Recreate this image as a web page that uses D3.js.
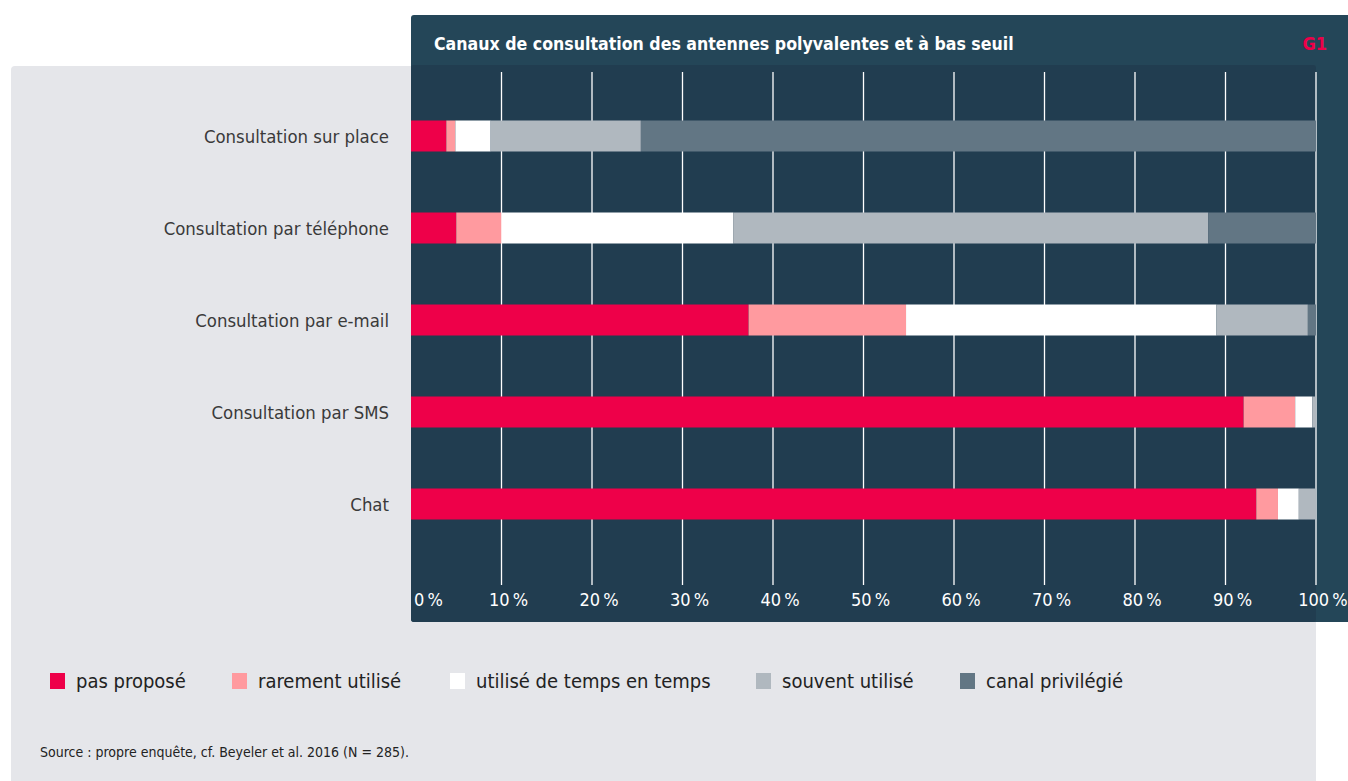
<!DOCTYPE html>
<html>
<head>
<meta charset="utf-8">
<script src="https://cdn.jsdelivr.net/npm/d3@7"></script>
<style>
  body { margin: 0; background: #fff; }
  svg { display: block; }
  .cond { font-family: 'Liberation Sans Narrow', 'DejaVu Sans Condensed', sans-serif; }
</style>
</head>
<body>
<div id="chart"></div>
<script>
// data
const categories = ['Consultation sur place', 'Consultation par téléphone', 'Consultation par e-mail', 'Consultation par SMS', 'Chat'];
const seriesNames = ['pas proposé', 'rarement utilisé', 'utilisé de temps en temps', 'souvent utilisé', 'canal privilégié'];
const pasPropose = [3.9, 5.0, 37.3, 92.0, 93.4];
const rarement = [1.0, 5.0, 17.4, 5.7, 2.4];
const tempsEnTemps = [3.9, 25.6, 34.3, 1.9, 2.3];
const souvent = [16.6, 52.5, 10.1, 0.4, 1.9];
const privilegie = [74.6, 11.9, 0.9, 0.0, 0.0];
const tickValues = [0, 10, 20, 30, 40, 50, 60, 70, 80, 90, 100];
const seriesColors = ['#ee0049', '#ff9a9f', '#ffffff', '#b0b8bf', '#627684'];

const W = 1348, H = 781;
const svg = d3.select('#chart').append('svg').attr('width', W).attr('height', H);

// light panel
svg.append('rect').attr('x', 11).attr('y', 66).attr('width', 1305).attr('height', 730)
  .attr('rx', 4).attr('fill', '#e5e6ea');

// dark panel with title band
svg.append('rect').attr('x', 411).attr('y', 15).attr('width', 950).attr('height', 607)
  .attr('rx', 3).attr('fill', '#244658');
svg.append('rect').attr('x', 411).attr('y', 65).attr('width', 905).attr('height', 557)
  .attr('rx', 3).attr('fill', '#213d50');

svg.append('text').attr('class', 'cond')
  .attr('x', 434).attr('y', 50)
  .style('font-size', '17.6px').style('font-weight', 'bold').attr('fill', '#fff')
  .text('Canaux de consultation des antennes polyvalentes et à bas seuil');
svg.append('text').attr('class', 'cond')
  .attr('x', 1327).attr('y', 50).attr('text-anchor', 'end')
  .style('font-size', '18px').style('font-weight', 'bold').attr('fill', '#ee0049')
  .text('G1');

// scales
const x = d3.scaleLinear().domain([0, 100]).range([411, 1316]);
const y = d3.scalePoint().domain(categories).range([136, 504]);
const barH = 31;

// gridlines
svg.append('g').selectAll('line').data(tickValues.slice(1)).enter().append('line')
  .attr('x1', d => x(d)).attr('x2', d => x(d))
  .attr('y1', 72).attr('y2', 585)
  .attr('stroke', '#fff').attr('stroke-width', 1.3);

// stacked bars
const rows = categories.map((c, i) => ({
  cat: c,
  s0: pasPropose[i], s1: rarement[i], s2: tempsEnTemps[i], s3: souvent[i], s4: privilegie[i]
}));
const keys = ['s0', 's1', 's2', 's3', 's4'];
const stacked = d3.stack().keys(keys)(rows);

svg.append('g').selectAll('g').data(stacked).enter().append('g')
  .attr('fill', (d, i) => seriesColors[i])
  .selectAll('rect').data(d => d).enter().append('rect')
  .attr('x', d => x(d[0]))
  .attr('width', d => Math.max(0, x(d[1]) - x(d[0])))
  .attr('y', d => y(d.data.cat) - barH / 2)
  .attr('height', barH);

// category labels
svg.append('g').selectAll('text').data(categories).enter().append('text')
  .attr('class', 'cond')
  .attr('x', 389).attr('y', d => y(d) + 7)
  .attr('text-anchor', 'end')
  .style('font-size', '18.4px').attr('fill', '#3a3a3a')
  .text(d => d);

// tick labels
svg.append('g').selectAll('text').data(tickValues).enter().append('text')
  .attr('class', 'cond')
  .attr('x', d => d === 0 ? x(d) + 3 : x(d) + 7)
  .attr('y', 606)
  .attr('text-anchor', d => d === 0 ? 'start' : 'middle')
  .style('font-size', '18px').attr('fill', '#fff')
  .text(d => d + '\u202F%');

// legend
const legendX = [50, 232, 450, 756, 960];
const legend = svg.append('g').selectAll('g').data(seriesNames).enter().append('g')
  .attr('transform', (d, i) => `translate(${legendX[i]},673)`);
legend.append('rect').attr('width', 15).attr('height', 16)
  .attr('fill', (d, i) => seriesColors[i]);
legend.append('text').attr('class', 'cond')
  .attr('x', 26).attr('y', 15)
  .style('font-size', '20px').attr('fill', '#222')
  .text(d => d);

// source
svg.append('text').attr('class', 'cond')
  .attr('x', 40).attr('y', 757)
  .style('font-size', '14px').attr('fill', '#222')
  .text('Source : propre enquête, cf. Beyeler et al. 2016 (N = 285).');
</script>
</body>
</html>
